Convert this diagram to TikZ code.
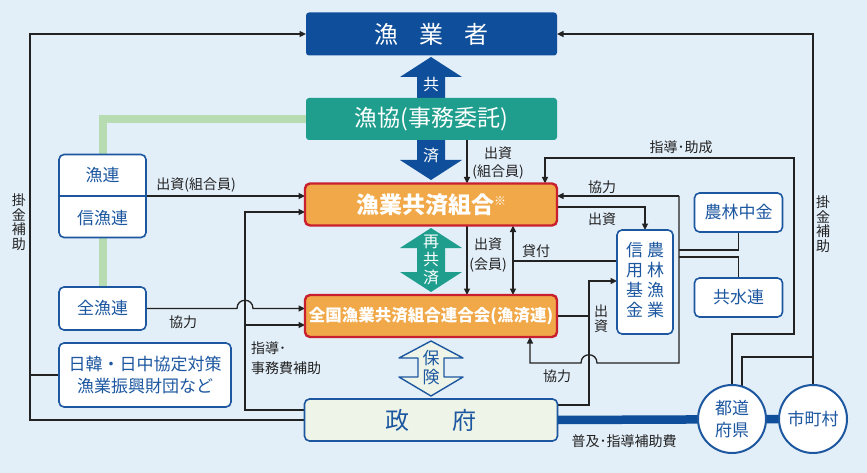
\documentclass[tikz,border=0pt]{standalone}
\usepackage{fontspec}
\setmainfont{Noto Sans CJK JP}
\usetikzlibrary{arrows.meta,calc}
\definecolor{bgc}{HTML}{E2EEF8}
\definecolor{navy}{HTML}{0E4E9A}
\definecolor{teal2}{HTML}{1F9E8E}
\definecolor{orng}{HTML}{F0A848}
\definecolor{redb}{HTML}{C8202F}
\definecolor{bblue}{HTML}{1C57A0}
\definecolor{govf}{HTML}{EEF5E8}
\definecolor{grn}{HTML}{B7DCB1}
\definecolor{ink}{HTML}{222222}
\pgfdeclarelayer{bg}\pgfdeclarelayer{lines}
\pgfsetlayers{bg,lines,main}
\begin{document}
\begin{tikzpicture}[x=1pt,y=-1pt,
 every node/.style={inner sep=0pt,outer sep=0pt},
 topbox/.style={rounded corners=3pt, minimum width=251pt, minimum height=43pt, text=white},
 kumi/.style={fill=orng, draw=redb, line width=2.4pt, rounded corners=5pt, minimum width=252pt, minimum height=42pt, text=white},
 wbox/.style={fill=white, draw=bblue, line width=1.6pt, rounded corners=5pt, text=bblue, font=\fontsize{17}{20}\selectfont},
 circ/.style={circle, fill=white, draw=bblue, line width=2pt, minimum size=68pt, text=bblue, align=center},
 lab/.style={text=ink, font=\fontsize{14}{18}\selectfont, align=center},
 conn/.style={draw=ink, line width=1.3pt},
 arr/.style={conn, -{Triangle[length=6.5pt,width=6pt]}},
 darr/.style={conn, {Triangle[length=6.5pt,width=6pt]}-{Triangle[length=6.5pt,width=6pt]}},
]
\begin{pgfonlayer}{bg}
\fill[bgc] (0,0) rectangle (867,473);
\end{pgfonlayer}

% big arrows
\fill[navy] (417,98) -- (417,77) -- (400,77) -- (431,57) -- (462,77) -- (445,77) -- (445,98) -- cycle;
\fill[navy] (417,140) -- (417,160) -- (400,160) -- (431,180) -- (462,160) -- (445,160) -- (445,140) -- cycle;
\fill[teal2] (431,228) -- (462,248) -- (445,248) -- (445,272) -- (462,272) -- (431,292) -- (400,272) -- (417,272) -- (417,248) -- (400,248) -- cycle;
\filldraw[fill=govf, draw=bblue, line width=1.4pt, line join=round] (431,341) -- (463,358) -- (444,358) -- (444,377) -- (463,377) -- (431,396) -- (399,377) -- (418,377) -- (418,358) -- (399,358) -- cycle;
\node[text=white, font=\fontsize{16}{16}\selectfont] (tkyo) at (431,85) {共};
\node[text=white, font=\fontsize{16}{16}\selectfont] (tsai) at (431,156) {済};
\node[text=white, align=center, font=\fontsize{16}{18}\selectfont] (tsaikyo) at (431,260) {再\\共\\済};
\node[text=bblue, align=center, font=\fontsize{17}{19}\selectfont] (thoken) at (431,368) {保\\険};

% main boxes
\node[topbox, fill=navy, font=\fontsize{24}{24}\selectfont] (gyo) at (431.5,34) {漁\hspace{21pt}業\hspace{21pt}者};
\node[topbox, fill=teal2, minimum height=42pt, font=\fontsize{23}{23}\selectfont] (kyo) at (431.5,119) {漁協(事務委託)};
\node[kumi, font=\bfseries\fontsize{23}{23}\selectfont] (kumiai) at (431,204.5) {漁業共済組合\raisebox{8pt}{\mdseries\fontsize{12}{12}\selectfont ※}};
\node[kumi, font=\bfseries\fontsize{16.5}{16.5}\selectfont] (zenkoku) at (431,316) {全国漁業共済組合連合会(漁済連)};
\node[fill=govf, draw=bblue, line width=1.6pt, rounded corners=5pt, minimum width=253pt, minimum height=42pt, text=bblue, font=\fontsize{24}{24}\selectfont] (seifu) at (431,420) {政\hspace{44pt}府};

% left boxes
\node[wbox, minimum width=87pt, minimum height=83pt] (ren) at (102.5,196) {};
\draw[bblue, line width=1.6pt] (ren.west) -- (ren.east);
\node[text=bblue, font=\fontsize{17}{17}\selectfont] (ren1) at (102.5,175) {漁連};
\node[text=bblue, font=\fontsize{17}{17}\selectfont] (ren2) at (102.5,218) {信漁連};
\node[wbox, minimum width=87pt, minimum height=43pt] (zengyo) at (102.5,308.5) {全漁連};
\node[wbox, minimum width=172pt, minimum height=64pt, align=center, font=\fontsize{17}{22}\selectfont] (nikkan) at (145,375) {日韓・日中協定対策\\漁業振興財団など};

% right boxes
\node[wbox, minimum width=88pt, minimum height=39pt] (norin) at (738.5,212.5) {農林中金};
\node[wbox, minimum width=88pt, minimum height=39pt] (kyosui) at (738.5,297.5) {共水連};
\node[wbox, minimum width=56pt, minimum height=104pt, font=\fontsize{17}{18.5}\selectfont] (kikin) at (645,282) {\begin{tabular}{@{}c@{\hspace{4pt}}c@{}}信&農\\用&林\\基&漁\\金&業\end{tabular}};
\node[circ, font=\fontsize{17}{22}\selectfont] (todo) at (732,419) {都道\\府県};
\node[circ, font=\fontsize{17}{17}\selectfont] (shi) at (813,419) {市町村};

% labels
\node[lab] (l1) at (196,185) {出資(組合員)};
\node[lab] (l2) at (183,322) {協力};
\node[lab, align=left, anchor=west, font=\fontsize{14}{20}\selectfont] (l3) at (251,358) {指導･\\事務費補助};
\node[lab] (l4) at (498,163) {出資\\(組合員)};
\node[lab] (l5) at (681,147) {指導･助成};
\node[lab] (l6) at (602,187) {協力};
\node[lab] (l7) at (602,219) {出資};
\node[lab, font=\fontsize{14}{20}\selectfont] (l8) at (488,255) {出資\\(会員)};
\node[lab] (l9) at (536,251) {貸付};
\node[lab] (l10) at (557,376) {協力};
\node[lab, font=\fontsize{14}{15}\selectfont] (l11) at (601,319) {出\\資};
\node[lab] (l12) at (624,441) {普及･指導補助費};
\node[lab, font=\fontsize{14}{14.5}\selectfont] (l13) at (19,222) {掛\\金\\補\\助};
\node[lab, font=\fontsize{14}{14.5}\selectfont] (l14) at (823,224) {掛\\金\\補\\助};

% coordinates
\coordinate (L) at (30,0);
\coordinate (V) at (245,0);
\coordinate (v1) at (245,212);
\coordinate (v2) at (245,325);
\coordinate (X1) at (467,0);
\coordinate (X2) at (513,0);
\coordinate (X3) at (545,0);
\coordinate (X4) at (530,0);
\coordinate (k1) at (513,261);
\coordinate (s1) at (794,334);
\coordinate (s2) at (794,158);
\coordinate (t1) at (742,357);
\coordinate (c1) at (679,196);
\coordinate (c2) at (679,363);
\coordinate (H) at (589,363);
\coordinate (d1) at (645,207);
\coordinate (e1) at (589,281);
\coordinate (n1) at (679,250);
\coordinate (n2) at (679,257);

\begin{pgfonlayer}{lines}
\draw[grn, line width=8pt] (kyo.west) -| (zengyo.north);
\draw[navy, line width=8.5pt] (seifu.east) -- (shi.center);
% left outer
\draw[arr] (seifu.west) -- (seifu.west -| L) -- (gyo.west -| L) -- (gyo.west);
\draw[conn] (nikkan.west) -- (nikkan.west -| L);
% 出資(組合員)
\draw[arr] (ren.east) -- (ren.east -| kumiai.west);
% 協力 全漁連 with hop
\draw[arr] (zengyo.east) -- ($(zengyo.east -| V)+(-8,0)$) .. controls +(0,-11) and +(0,-11) .. ($(zengyo.east -| V)+(8,0)$) -- (zengyo.east -| zenkoku.west);
% 指導・事務費補助
\draw[arr] ($(seifu.west)+(0,-10)$) -| (v1) -- (v1 -| kumiai.west);
\draw[arr] (v2) -- (v2 -| zenkoku.west);
% 出資 漁協->組合
\draw[arr] (kyo.south -| X1) -- (kumiai.north -| X1);
% 出資(会員)
\draw[arr] (kumiai.south -| X1) -- (zenkoku.north -| X1);
% 貸付
\draw[darr] (kumiai.south -| X2) -- (zenkoku.north -| X2);
\draw[conn] (k1) -- (k1 -| kikin.west);
% 指導・助成
\draw[arr] (todo.north) |- (s1) -- (s2) -- (s2 -| X3) -- (kumiai.north -| X3);
% 掛金補助 right
\draw[arr] (shi.north) -- (shi.north |- gyo.east) -- (gyo.east);
\draw[conn] ($(todo.center)+(10,0)$) |- (shi.north |- t1);
% 協力 right
\draw[arr] (c1) -- (c1 -| kumiai.east);
\draw[arr] (c1) -- (c2) -- ($(H)+(8,0)$) .. controls +(0,-11) and +(0,-11) .. ($(H)+(-8,0)$) -- (c2 -| X4) -- (zenkoku.south -| X4);
% 出資 組合->基金
\draw[arr] (d1 -| kumiai.east) -- (d1) -- (kikin.north);
% 出資 政府/全国 -> 基金
\draw[arr] ($(seifu.east)+(0,-15)$) -| (e1) -- (e1 -| kikin.west);
\draw[conn] (zenkoku.east) -- (zenkoku.east -| e1);
% 農林中金 / 共水連
\draw[conn] (n1) -| (norin.south);
\draw[conn] (n2) -| (kyosui.north);
\end{pgfonlayer}
\end{tikzpicture}
\end{document}
